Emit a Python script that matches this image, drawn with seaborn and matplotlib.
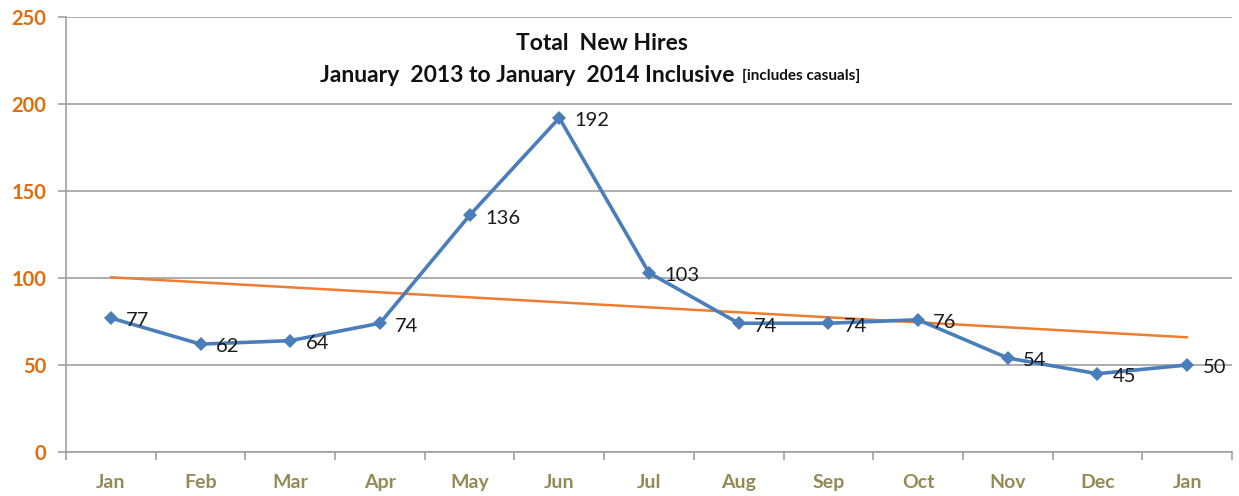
import numpy as np
import pandas as pd
import matplotlib
matplotlib.use("Agg")
import matplotlib.pyplot as plt
import seaborn as sns

months = ["Jan", "Feb", "Mar", "Apr", "May", "Jun", "Jul", "Aug", "Sep", "Oct", "Nov", "Dec", "Jan"]
new_hires = [77, 62, 64, 74, 136, 192, 103, 74, 74, 76, 54, 45, 50]
y_ticks = [0, 50, 100, 150, 200, 250]

sns.set_theme(style="white")
plt.rcParams["font.family"] = ["Lato", "DejaVu Sans"]

df = pd.DataFrame({"pos": np.arange(len(months)), "hires": new_hires})

fig = plt.figure(figsize=(12.39, 4.96), dpi=100)
ax = fig.add_axes([66 / 1239, 44 / 496, (1232 - 66) / 1239, (452 - 17) / 496])

# linear trend across the period
coef = np.polyfit(df["pos"], df["hires"], 1)
df["trend"] = np.polyval(coef, df["pos"])
sns.lineplot(data=df, x="pos", y="trend", ax=ax, color="#EE7D31", linewidth=1.8, zorder=2)

sns.lineplot(data=df, x="pos", y="hires", ax=ax, color="#4A7EBB", linewidth=2.6,
             marker="D", markersize=7, markeredgewidth=0, zorder=3)

for x, v in zip(df["pos"], df["hires"]):
    ax.annotate(str(v), (x, v), xytext=(11, -2), textcoords="offset points",
                ha="left", va="center", fontsize=14.5, color="#1a1a1a", zorder=4)

ax.set_xlim(-0.5, len(months) - 0.5)
ax.set_ylim(0, 250)
ax.set_yticks(y_ticks)
ax.set_yticklabels([str(t) for t in y_ticks], fontsize=14.5, fontweight="bold", color="#E36C0A")
ax.yaxis.grid(True, color="#A0A0A0", linewidth=1.2)
ax.set_axisbelow(True)

# category labels centred, tick marks on band boundaries
ax.set_xticks(np.arange(len(months)))
ax.set_xticklabels(months, fontsize=14, fontweight="bold", color="#948A54")
ax.set_xticks(np.arange(len(months) + 1) - 0.5, minor=True)
ax.tick_params(axis="x", which="major", length=0, pad=16)
ax.tick_params(axis="x", which="minor", length=6, width=1.2, color="#A0A0A0", direction="out", bottom=True)
ax.tick_params(axis="y", length=6, width=1.2, color="#A0A0A0", direction="out", left=True, pad=8)

ax.set_xlabel("")
ax.set_ylabel("")
for side in ["top", "right"]:
    ax.spines[side].set_visible(False)
for side in ["left", "bottom"]:
    ax.spines[side].set_color("#A0A0A0")
    ax.spines[side].set_linewidth(1.2)

fig.text(602 / 1239, 1 - 43 / 496, "Total  New Hires", ha="center", va="center",
         fontsize=16.5, fontweight="bold", color="#111111")
fig.text(734 / 1239, 1 - 75 / 496, "January  2013 to January  2014 Inclusive", ha="right",
         va="center", fontsize=16.5, fontweight="bold", color="#111111")
fig.text(742 / 1239, 1 - 76 / 496, "[includes casuals]", ha="left", va="center",
         fontsize=11, fontweight="bold", color="#111111")

fig.savefig("out.png", dpi=100, facecolor="white")
